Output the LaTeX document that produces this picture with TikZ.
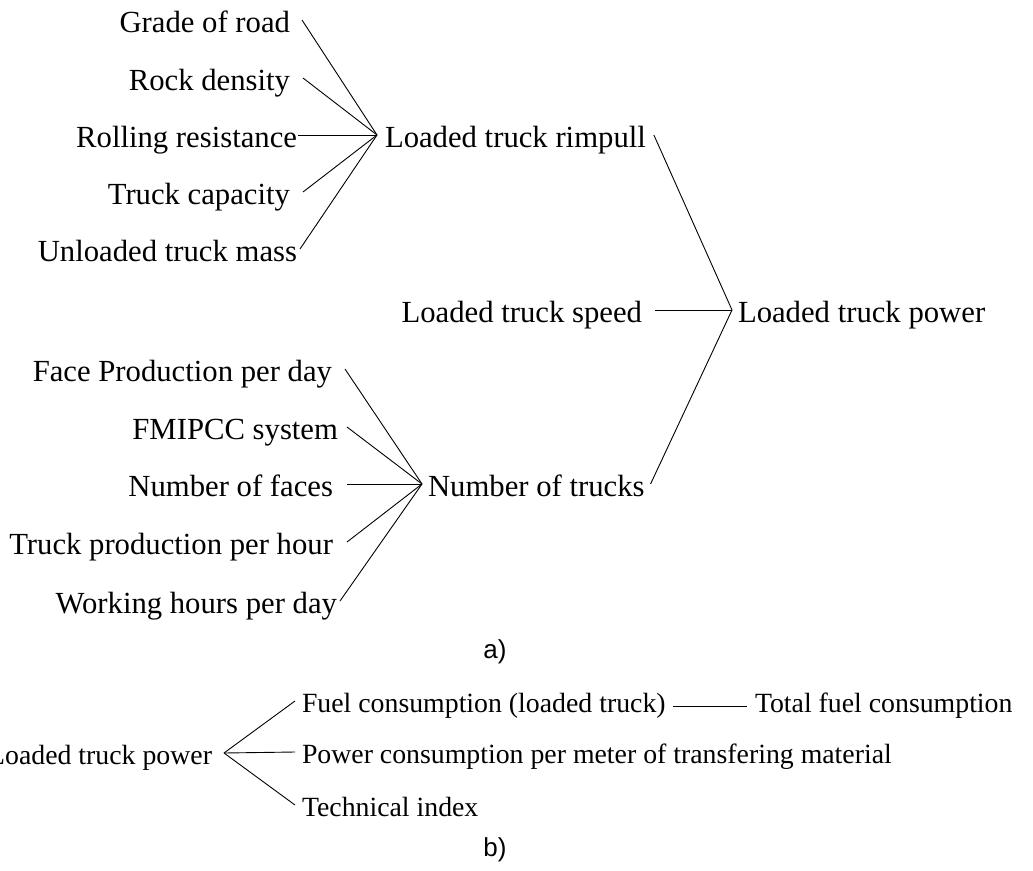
\documentclass[tikz,border=0pt]{standalone}
\usepackage{fontspec}
\setmainfont{Liberation Serif}
\newfontfamily\labelfont{Liberation Sans}
\begin{document}
\begin{tikzpicture}[x=1pt,y=-1pt,
  every node/.style={inner sep=0pt},
  big/.style={font=\fontsize{30.7}{36}\selectfont, text height=24.5pt, text depth=0pt},
  small/.style={font=\fontsize{27.8}{33}\selectfont, text height=22.2pt, text depth=0pt},
  tag/.style={font=\labelfont\fontsize{26}{30}\selectfont},
  link/.style={line width=0.9pt}]
\useasboundingbox (0,0) rectangle (1033,870);

% ---- a) factors of the loaded truck power ----
\node[big, anchor=east, outer xsep=12pt] (grade)   at (302,20)  {Grade of road};
\node[big, anchor=east, outer xsep=13pt] (rock)    at (303,78)  {Rock density};
\node[big, anchor=east, outer xsep=1pt]  (rolling) at (298,135) {Rolling resistance};
\node[big, anchor=east, outer xsep=13pt] (cap)     at (303,192) {Truck capacity};
\node[big, anchor=east, outer xsep=3pt]  (mass)    at (300,249) {Unloaded truck mass};

\node[big, anchor=west, outer xsep=8pt]  (rimpull) at (377,135) {Loaded truck rimpull};
\node[big, anchor=east, outer xsep=13pt] (speed)   at (655,310) {Loaded truck speed};
\node[big, anchor=west, outer xsep=6pt]  (power)   at (732,310) {Loaded truck power};

\node[big, anchor=east, outer xsep=13pt] (face)    at (345,369) {Face Production per day};
\node[big, anchor=east, outer xsep=9pt]  (fmipcc)  at (347,427) {FMIPCC system};
\node[big, anchor=east, outer xsep=14pt] (faces)   at (347,484) {Number of faces};
\node[big, anchor=east, outer xsep=14pt] (tph)     at (347,542) {Truck production per hour};
\node[big, anchor=east, outer xsep=3pt]  (whd)     at (340,601) {Working hours per day};

\node[big, anchor=west, outer xsep=6pt]  (trucks)  at (422,484) {Number of trucks};

\foreach \n in {grade,rock,rolling,cap,mass}
  \draw[link] (\n.east) -- (rimpull.west);
\foreach \n in {face,fmipcc,faces,tph,whd}
  \draw[link] (\n.east) -- (trucks.west);
\foreach \n in {rimpull,speed,trucks}
  \draw[link] (\n.east) -- (power.west);

\node[tag] (capa) at (495,652) {a)};

% ---- b) consequences of the loaded truck power ----
\node[small, anchor=east, outer xsep=12pt] (src)     at (224,753) {Loaded truck power};
\node[small, anchor=west, outer xsep=7pt]  (fuel)    at (295,701) {Fuel consumption (loaded truck)};
\node[small, anchor=west, outer xsep=7pt]  (powcons) at (295,752) {Power consumption per meter of transfering material};
\node[small, anchor=west, outer xsep=7pt]  (tech)    at (295,805) {Technical index};
\node[small, anchor=west, outer xsep=8pt]  (total)   at (747,701) {Total fuel consumption};

\foreach \n in {fuel,powcons,tech}
  \draw[link] (src.east) -- (\n.west);
\draw[link] ([yshift=-5pt]fuel.east) -- ([yshift=-5pt]total.west);

\node[tag] (capb) at (495,850) {b)};
\end{tikzpicture}
\end{document}
